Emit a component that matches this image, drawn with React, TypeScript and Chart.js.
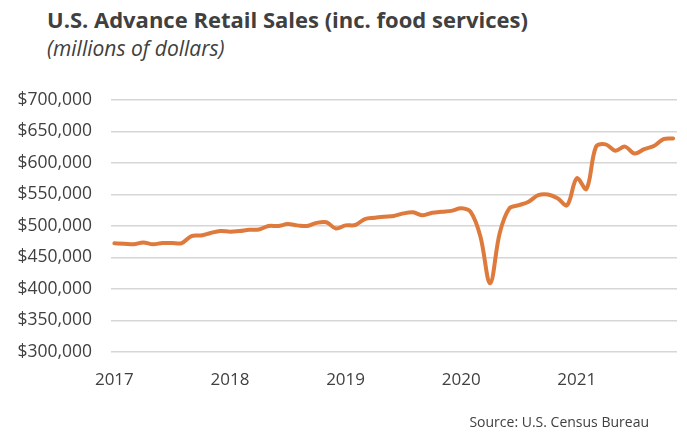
import React, { useEffect, useRef } from "react";
import { Chart, registerables } from "chart.js";

Chart.register(...registerables);

const years = ["2017", "2018", "2019", "2020", "2021"];
const yTicks = [300000, 350000, 400000, 450000, 500000, 550000, 600000, 650000, 700000];

// Monthly values, Jan 2017 .. Nov 2021 (millions of dollars)
const sales2017 = [472500, 472000, 471000, 474000, 471000, 473000, 473000, 473000, 484000, 485000, 489000, 492000];
const sales2018 = [491000, 492000, 494000, 494500, 500000, 500000, 503000, 501000, 500000, 505000, 506000, 496000];
const sales2019 = [501000, 501600, 511000, 513000, 514800, 516000, 520000, 521700, 517000, 521000, 522700, 524000];
const sales2020 = [528000, 522000, 483000, 409000, 489000, 528000, 533000, 538600, 549000, 550000, 544000, 533000];
const sales2021 = [575700, 558700, 626000, 629600, 619500, 626000, 615000, 622000, 627000, 638000, 639000];

const values = [...sales2017, ...sales2018, ...sales2019, ...sales2020, ...sales2021];

const FONT = "'Open Sans', 'Noto Sans', sans-serif";
const TEXT = "#404040";

export default function App() {
  const ref = useRef<HTMLCanvasElement | null>(null);

  useEffect(() => {
    if (!ref.current) return;
    const points = values.map((v, i) => ({ x: i, y: v }));
    const chart = new Chart(ref.current, {
      type: "line",
      data: {
        datasets: [
          {
            data: points,
            borderColor: "#DE7A3C",
            borderWidth: 4,
            pointRadius: 0,
            tension: 0.35,
            borderCapStyle: "round",
            borderJoinStyle: "round",
            fill: false,
          },
        ],
      },
      options: {
        animation: false,
        responsive: false,
        maintainAspectRatio: false,
        layout: { padding: { left: 0, right: 10, top: 100, bottom: 0 } },
        plugins: { legend: { display: false }, tooltip: { enabled: false }, title: { display: false } },
        scales: {
          x: {
            type: "linear",
            min: -0.35,
            max: 58.4,
            grid: { display: false, drawTicks: false },
            border: { display: false },
            afterBuildTicks: (scale: any) => {
              scale.ticks = years.map((_, i) => ({ value: i * 12 }));
            },
            afterFit: (scale: any) => {
              scale.height = 80;
            },
            ticks: {
              autoSkip: false,
              maxRotation: 0,
              padding: 18,
              color: TEXT,
              font: { family: FONT, size: 17 },
              callback: (v: any) => years[Math.round(Number(v) / 12)] ?? "",
            },
          },
          y: {
            min: 300000,
            max: 700000,
            afterBuildTicks: (scale: any) => {
              scale.ticks = yTicks.map((v) => ({ value: v }));
            },
            afterFit: (scale: any) => {
              scale.width = 111;
            },
            grid: { color: "#d6d6d6", lineWidth: 1.5, drawTicks: false },
            border: { display: false },
            ticks: {
              padding: 19,
              color: TEXT,
              font: { family: FONT, size: 17.5 },
              callback: (v: any) => "$" + Number(v).toLocaleString("en-US"),
            },
          },
        },
      },
    });
    return () => chart.destroy();
  }, []);

  return (
    <div style={{ position: "absolute", left: 0, top: 0, width: 687, height: 432, background: "#fff", fontFamily: FONT, color: TEXT }}>
      <div style={{ position: "absolute", left: 47, top: 4, fontSize: 22, fontWeight: 700, whiteSpace: "nowrap", lineHeight: "30px" }}>
        U.S. Advance Retail Sales (inc. food services)
      </div>
      <div style={{ position: "absolute", left: 47, top: 34, fontSize: 21, fontStyle: "italic", whiteSpace: "nowrap", lineHeight: "28px" }}>
        (millions of dollars)
      </div>
      <canvas ref={ref} width={687} height={432} style={{ position: "absolute", left: 0, top: 0 }} />
      <div style={{ position: "absolute", right: 38, top: 412, fontSize: 14, whiteSpace: "nowrap", lineHeight: "19px" }}>
        Source: U.S. Census Bureau
      </div>
    </div>
  );
}
